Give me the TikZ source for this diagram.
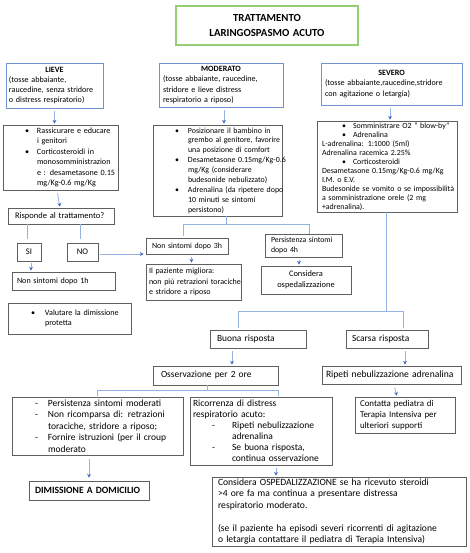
\documentclass[tikz,border=0pt]{standalone}
\usepackage{fontspec}
\setmainfont{Carlito}
\usetikzlibrary{arrows.meta}
\definecolor{bluebd}{RGB}{114,147,208}
\definecolor{greenbd}{RGB}{150,206,118}
\definecolor{graybd}{RGB}{95,95,95}
\definecolor{conn}{RGB}{150,178,226}
\definecolor{tipc}{RGB}{58,98,190}
\newcommand{\bl}[3]{\mbox{\hspace*{#1}\makebox[#2][l]{\textbullet}#3}}
\newcommand{\dl}[3]{\mbox{\hspace*{#1}\makebox[#2][l]{-}#3}}
\newcommand{\ct}[2]{\mbox{\hspace*{#1}#2}}
\begin{document}
\begin{tikzpicture}[x=1pt,y=-1pt,
  base/.style={inner xsep=3pt, inner ysep=1pt, align=left, text=black},
  fsm/.style={font=\fontsize{8.1}{10.2}\selectfont},
  flg/.style={font=\fontsize{9.4}{11.4}\selectfont},
  gbox/.style={base, fsm, draw=graybd, line width=0.9pt},
  bbox/.style={base, fsm, draw=bluebd, line width=0.9pt},
  tbox/.style={base, draw=greenbd, line width=1.1pt, align=center, font=\fontsize{10.8}{15}\selectfont\bfseries},
  wh/.code 2 args={\pgfmathsetmacro\tw{#1-6}\edef\tmp{\noexpand\pgfkeysalso{minimum width=#1pt,minimum height=#2pt,text width=\tw pt}}\tmp},
  line/.style={draw=conn, line width=0.8pt},
  arr/.style={line, -{Stealth[length=3.6pt,width=3.8pt,color=tipc]}, shorten <=3pt, shorten >=1pt},
]
\fill[white] (0,0) rectangle (470,553);
\useasboundingbox (0,0) rectangle (470,553);

% top row
\node[tbox, wh={182}{39}] (title) at (267,25.5) {TRATTAMENTO\\LARINGOSPASMO ACUTO};
\node[bbox, wh={97}{45}] (lieve) at (54.5,85.5) {\makebox[91pt]{\textbf{LIEVE}}\\\ct{0pt}{(tosse abbaiante,}\\\ct{0pt}{raucedine, senza stridore}\\\ct{0pt}{o distress respiratorio)}};
\node[bbox, wh={124}{44}] (mod) at (221,85) {\makebox[118pt]{\textbf{MODERATO}}\\\ct{1pt}{(tosse abbaiante, raucedine,}\\\ct{1pt}{stridore e lieve distress}\\\ct{1pt}{respiratorio a riposo)}};
\node[bbox, wh={141}{42}] (sev) at (391.5,84) {\makebox[135pt]{\textbf{SEVERO}}\\\ct{1pt}{(tosse abbaiante,raucedine,stridore}\\\ct{1pt}{con agitazione o letargia)}\\[2pt]};

% second row
\node[gbox, wh={115}{65}, font=\fontsize{8.1}{10.5}\selectfont] (lieve2) at (60.5,157.5) {\bl{19pt}{12pt}{Rassicurare e educare}\\\ct{31pt}{i genitori}\\\bl{19pt}{12pt}{Corticosteroidi in}\\\ct{31pt}{monosomministrazion}\\\ct{31pt}{e : desametasone 0.15}\\\ct{31pt}{mg/Kg-0.6 mg/Kg}};
\node[gbox, wh={129}{91}, font=\fontsize{7.9}{9.9}\selectfont] (mod2) at (217.5,170.5) {\bl{19pt}{13pt}{Posizionare il bambino in}\\\ct{32pt}{grembo al genitore, favorire}\\\ct{32pt}{una posizione di comfort}\\\bl{19pt}{13pt}{Desametasone 0.15mg/Kg-0.6}\\\ct{32pt}{mg/Kg (considerare}\\\ct{32pt}{budesonide nebulizzato)}\\\bl{19pt}{13pt}{Adrenalina (da ripetere dopo}\\\ct{32pt}{10 minuti se sintomi}\\\ct{32pt}{persistono)}};
\node[gbox, wh={140}{91}, font=\fontsize{7.9}{9.05}\selectfont] (sev2) at (387,166.5) {\bl{22pt}{11pt}{Somministrare O2 ” blow-by”}\\\bl{22pt}{11pt}{Adrenalina}\\\ct{2pt}{L-adrenalina: 1:1000 (5ml)}\\\ct{2pt}{Adrenalina racemica 2.25\%}\\\bl{22pt}{11pt}{Corticosteroidi}\\\ct{2pt}{Desametasone 0.15mg/Kg-0.6 mg/Kg}\\\ct{2pt}{I.M. o E.V.}\\\ct{2pt}{Budesonide se vomito o se impossibilità}\\\ct{2pt}{a somministrazione orele (2 mg}\\\ct{2pt}{+adrenalina).}};

% lieve branch
\node[gbox, wh={106}{16}, font=\fontsize{8.5}{10.5}\selectfont] (risp) at (61,216) {\ct{4pt}{Risponde al trattamento?}};
\node[gbox, wh={24}{18}, align=center, font=\fontsize{8.6}{10.5}\selectfont] (si) at (29,252) {SI};
\node[gbox, wh={31}{18}, align=center, font=\fontsize{8.6}{10.5}\selectfont] (no) at (82.5,252) {NO};
\node[gbox, wh={103}{18}, font=\fontsize{8.1}{10.5}\selectfont] (ns1) at (63.5,281) {\ct{2pt}{Non sintomi dopo 1h}};
\node[gbox, wh={123}{31}, font=\fontsize{8.1}{10.5}\selectfont] (valut) at (69.5,318.5) {\bl{20pt}{14pt}{Valutare la dimissione}\\\ct{34pt}{protetta}};

% moderato branch
\node[gbox, wh={82}{16}, font=\fontsize{7.9}{10}\selectfont] (ns3) at (187,246) {\ct{3pt}{Non sintomi dopo 3h}};
\node[gbox, wh={95}{36}, font=\fontsize{8}{10.2}\selectfont] (migl) at (193.5,282) {\ct{0pt}{Il paziente migliora:}\\\ct{0pt}{non più retrazioni toraciche}\\\ct{0pt}{e stridore a riposo}};
\node[gbox, wh={77}{23}, font=\fontsize{7.8}{9.6}\selectfont] (pers) at (303.5,245.5) {\ct{3pt}{Persistenza sintomi}\\\ct{3pt}{dopo 4h}};
\node[gbox, wh={90}{28}, align=center, font=\fontsize{8.4}{10.5}\selectfont] (cons) at (306,280) {Considera\\ospedalizzazione};

% severo branch
\node[gbox, wh={96}{18}, flg] (buona) at (258,339) {\ct{4pt}{Buona risposta}};
\node[gbox, wh={82}{18}, flg] (scarsa) at (387,339) {\ct{3pt}{Scarsa risposta}};
\node[gbox, wh={125}{19}, flg] (oss) at (215.5,375.5) {\ct{5pt}{Osservazione per 2 ore}};
\node[gbox, wh={139}{18}, font=\fontsize{9.6}{12}\selectfont] (ripeti) at (391.5,375) {\ct{1pt}{Ripeti nebulizzazione adrenalina}};
\node[gbox, wh={100}{36}, font=\fontsize{8.9}{11.2}\selectfont] (cont) at (405,415) {\ct{2pt}{Contatta pediatra di}\\\ct{2pt}{Terapia Intensiva per}\\\ct{2pt}{ulteriori supporti}};
\node[gbox, wh={171}{58}, font=\fontsize{9.5}{11.4}\selectfont] (persmod) at (97.5,426) {\dl{20pt}{13pt}{Persistenza sintomi moderati}\\\dl{20pt}{13pt}{Non ricomparsa di: retrazioni}\\\ct{33pt}{toraciche, stridore a riposo;}\\\dl{20pt}{13pt}{Fornire istruzioni (per il croup}\\\ct{33pt}{moderato}};
\node[gbox, wh={142}{68}, font=\fontsize{9.5}{11}\selectfont] (ricorr) at (261,431) {\ct{0pt}{Ricorrenza di distress}\\\ct{0pt}{respiratorio acuto:}\\\dl{19pt}{20pt}{Ripeti nebulizzazione}\\\ct{39pt}{adrenalina}\\\dl{19pt}{20pt}{Se buona risposta,}\\\ct{39pt}{continua osservazione}};
\node[gbox, wh={120}{19}, font=\fontsize{9.6}{11.6}\selectfont\bfseries] (dimiss) at (89,490.5) {\ct{3pt}{DIMISSIONE A DOMICILIO}};
\node[gbox, wh={254}{69}, font=\fontsize{9.6}{11.5}\selectfont] (osped) at (339,511.5) {\ct{3pt}{Considera OSPEDALIZZAZIONE se ha ricevuto steroidi}\\\ct{3pt}{>4 ore fa ma continua a presentare distressa}\\\ct{3pt}{respiratorio moderato.}\\[11.5pt]\ct{3pt}{(se il paziente ha episodi severi ricorrenti di agitazione}\\\ct{3pt}{o letargia contattare il pediatra di Terapia Intensiva)}};

% coordinates for junctions
\coordinate (m0) at (226,224);
\coordinate (j1) at (183,224);
\coordinate (j2) at (309,224);
\coordinate (k0) at (386,311);
\coordinate (k1) at (238,311);
\coordinate (k2) at (403,311);
\coordinate (o0) at (207,390);
\coordinate (o1) at (97,390);
\coordinate (o2) at (278,390);

% connectors
\draw[arr] (lieve.south) -- (lieve.south |- lieve2.north);
\draw[arr] ([xshift=3pt]mod.south) -- ([xshift=3pt]mod.south |- mod2.north);
\draw[arr] ([xshift=-1.5pt]sev.south) -- ([xshift=-1.5pt]sev.south |- sev2.north);
\draw[arr] ([xshift=-3.5pt]lieve2.south) -- ([xshift=-1pt]risp.north);
\draw[line, shorten >=4pt] ([xshift=-1.5pt]risp.south -| si) -- ([xshift=-1.5pt]si.north);
\draw[line, shorten >=4pt] ([xshift=-2.5pt]risp.south -| no) -- ([xshift=-2.5pt]no.north);
\draw[arr, shorten <=2pt, shorten >=2pt] ([yshift=-2pt]no.east) -- ([yshift=-2pt]no.east -| ns3.west);
\draw[arr, shorten <=2pt] ([xshift=2pt]si.south) -- ([xshift=2pt]si.south |- ns1.north);

\draw[line] (mod2.south -| m0) -- (m0);
\draw[line] (j1) -- (j2);
\draw[line, shorten >=2pt] (j1) -- (j1 |- ns3.north);
\draw[line] (j2) -- (j2 |- pers.north);
\draw[arr] ([xshift=-2pt]migl.north |- ns3.south) -- ([xshift=-2pt]migl.north);
\draw[arr] ([xshift=-4.5pt]pers.south) -- ([xshift=-4.5pt]pers.south |- cons.north);

\draw[line] (sev2.south -| k0) -- (k0);
\draw[line] (k1) -- (k2);
\draw[line, shorten >=2pt] (k1) -- (k1 |- buona.north);
\draw[line, shorten >=2pt] (k2) -- (k2 |- scarsa.north);
\draw[arr] ([xshift=-26pt]buona.south) -- ([xshift=-26pt]buona.south |- oss.north);
\draw[arr] ([xshift=18pt]scarsa.south) -- ([xshift=18pt]scarsa.south |- ripeti.north);
\draw[arr] ([xshift=2.5pt]ripeti.south) -- ([xshift=-8pt]cont.north);

\draw[line] (oss.south -| o0) -- (o0);
\draw[line] (o1) -- (o2);
\draw[line, shorten >=1pt] (o1) -- (o1 |- persmod.north);
\draw[line, shorten >=1pt] (o2) -- (o2 |- ricorr.north);
\draw[arr, shorten <=4pt, shorten >=3pt] (persmod.south -| dimiss) -- (dimiss.north);
\draw[arr] ([xshift=15pt]ricorr.south) -- ([xshift=15pt]ricorr.south |- osped.north);
\end{tikzpicture}
\end{document}
